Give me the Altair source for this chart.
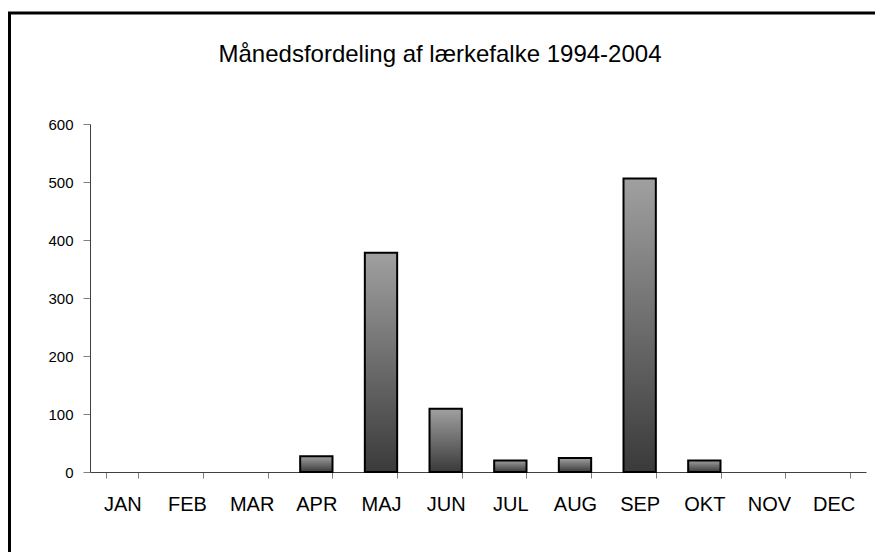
import altair as alt
import pandas as pd

months = ["JAN", "FEB", "MAR", "APR", "MAJ", "JUN", "JUL", "AUG", "SEP", "OKT", "NOV", "DEC"]
counts = [0, 0, 0, 27, 378, 109, 20, 24, 506, 20, 0, 0]
y_ticks = [0, 100, 200, 300, 400, 500, 600]
title_text = "Månedsfordeling af lærkefalke 1994-2004"

FONT = "Liberation Sans"

df = pd.DataFrame({"month": months, "antal": counts})

grad = alt.Gradient(
    gradient="linear",
    stops=[alt.GradientStop(color="#a0a0a0", offset=0),
           alt.GradientStop(color="#3a3a3a", offset=1)],
    x1=0, x2=0, y1=0, y2=1,
)

bars = alt.Chart(df).transform_filter("datum.antal > 0").mark_bar(
    color=grad, stroke="black", strokeWidth=2
).encode(
    x=alt.X("month:N", sort=months,
            scale=alt.Scale(domain=months, paddingInner=0.5, paddingOuter=0.25),
            axis=alt.Axis(title=None, labelAngle=0, tickBand="extent", tickSize=6,
                          labelPadding=32, labelBaseline="alphabetic",
                          labelFontSize=20, labelFont=FONT, labelColor="black",
                          domainColor="#404040", tickColor="#808080", grid=False)),
    y=alt.Y("antal:Q", scale=alt.Scale(domain=[0, 600], nice=False),
            axis=alt.Axis(title=None, values=y_ticks, tickSize=7, labelPadding=10,
                          labelFontSize=15, labelFont=FONT, labelColor="black",
                          domainColor="#404040", tickColor="#808080", grid=False)),
)

border = alt.Chart(pd.DataFrame({"b": [0]})).mark_rect(
    filled=False, stroke="black", strokeWidth=3
).encode(
    x=alt.value(-80.5), x2=alt.value(830),
    y=alt.value(-111), y2=alt.value(560),
)

title = alt.Chart(pd.DataFrame({"t": [title_text]})).mark_text(
    font=FONT, fontSize=24, align="center", baseline="alphabetic", color="black"
).encode(
    text="t:N", x=alt.value(350), y=alt.value(-62),
)

chart = alt.layer(border, bars, title).properties(
    width=776, height=348,
    autosize=alt.AutoSizeParams(type="none"),
    padding={"left": 82, "top": 116, "right": 9, "bottom": 80},
).configure_view(strokeWidth=0)

chart.save("out.html", embed_options={"renderer": "svg", "actions": False})
